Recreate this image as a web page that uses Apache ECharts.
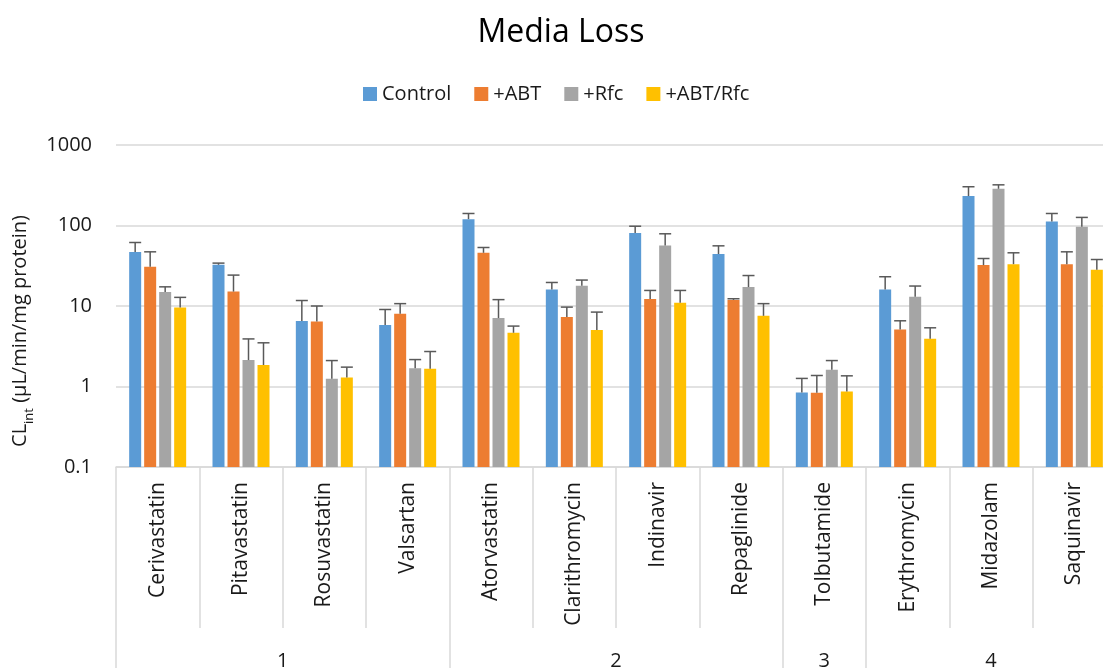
<!DOCTYPE html>
<html>
<head>
<meta charset="utf-8">
<script src="https://cdn.jsdelivr.net/npm/echarts@6.0.0/dist/echarts.min.js"></script>
<style>
  html, body { margin: 0; padding: 0; background: #fff; }
  #chart { width: 1103px; height: 668px; }
</style>
</head>
<body>
<div id="chart"></div>
<script>
// drug names and the group they belong to
const drugs = ['Cerivastatin', 'Pitavastatin', 'Rosuvastatin', 'Valsartan', 'Atorvastatin',
    'Clarithromycin', 'Indinavir', 'Repaglinide', 'Tolbutamide', 'Erythromycin', 'Midazolam', 'Saquinavir'];
const groupNames = ['1', '2', '3', '4'];
const groupSizes = [4, 4, 1, 3];

const seriesNames = ['Control', '+ABT', '+Rfc', '+ABT/Rfc'];
const seriesColors = ['#5B9BD5', '#ED7D31', '#A5A5A5', '#FFC000'];

// CLint means
const control = [46.7, 32.5, 6.5, 5.8, 120, 16.0, 80.5, 44.2, 0.84, 16.0, 232, 112];
const abt = [30.7, 15.1, 6.4, 8.0, 45.8, 7.28, 12.2, 11.9, 0.835, 5.1, 32.2, 33.1];
const rfc = [14.9, 2.13, 1.25, 1.69, 7.08, 17.8, 56.5, 17.2, 1.61, 13.0, 286, 96.4];
const abtRfc = [9.6, 1.85, 1.29, 1.66, 4.65, 5.02, 11.0, 7.55, 0.867, 3.92, 33.1, 28.2];

// error (SD, upper side only)
const controlErr = [14.8, 1.6, 5.2, 3.25, 21, 3.6, 17.5, 11.7, 0.42, 7.1, 71, 29];
const abtErr = [16.4, 9.1, 3.6, 2.7, 7.5, 2.41, 3.4, 0.4, 0.535, 1.45, 6.7, 14.0];
const rfcErr = [2.4, 1.77, 0.85, 0.47, 4.92, 3.2, 22.4, 6.7, 0.49, 4.7, 34, 29.6];
const abtRfcErr = [3.2, 1.64, 0.45, 1.06, 0.98, 3.38, 4.6, 3.15, 0.49, 1.44, 12.7, 9.6];

const yTicks = [0.1, 1, 10, 100, 1000];

const allMeans = [control, abt, rfc, abtRfc];
const allErrs = [controlErr, abtErr, rfcErr, abtRfcErr];

const FONT = 'Open Sans';
const TEXT = '#1a1a1a';
const LINE = '#d9d9d9';
const BAR_W = 12;
const BAR_STEP = 15;
const Y_MIN = yTicks[0];

// second axis: 2 slots per category, boundaryGap false -> 25 points
const slots = new Array(drugs.length * 2 + 1).fill('');
const groupEdges = [0];
let pos = 0;
groupSizes.forEach((n, i) => {
    slots[pos * 2 + n] = groupNames[i];
    pos += n;
    groupEdges.push(pos * 2);
});

const chart = echarts.init(document.getElementById('chart'), null, { renderer: 'canvas' });

// bars are drawn from the bottom of the log axis (0.1), with an upper error bar
const series = allMeans.map((vals, i) => ({
    type: 'custom',
    name: seriesNames[i],
    itemStyle: { color: seriesColors[i] },
    data: vals.map((v, k) => [k, v, v + allErrs[i][k]]),
    encode: { x: 0, y: [1, 2] },
    renderItem: function (params, api) {
        const base = api.coord([api.value(0), Y_MIN]);
        const top = api.coord([api.value(0), api.value(1)]);
        const err = api.coord([api.value(0), api.value(2)]);
        const cx = top[0] + (i - 1.5) * BAR_STEP;
        const style = { stroke: '#595959', lineWidth: 1.5 };
        return {
            type: 'group',
            children: [
                {
                    type: 'rect',
                    shape: { x: cx - BAR_W / 2, y: top[1], width: BAR_W, height: base[1] - top[1] },
                    style: { fill: api.visual('color') }
                },
                { type: 'line', shape: { x1: cx, y1: top[1], x2: cx, y2: err[1] }, style: style },
                { type: 'line', shape: { x1: cx - 6, y1: err[1], x2: cx + 6, y2: err[1] }, style: style }
            ]
        };
    }
}));

chart.setOption({
    animation: false,
    textStyle: { fontFamily: FONT },
    title: {
        text: 'Media Loss',
        left: 556,
        textAlign: 'center',
        top: 12,
        textStyle: { fontFamily: FONT, fontSize: 32, fontWeight: 'normal', color: '#000' }
    },
    legend: {
        data: seriesNames,
        left: 363,
        top: 84,
        padding: 0,
        itemWidth: 14,
        itemHeight: 14,
        itemGap: 23,
        icon: 'rect',
        textStyle: { fontFamily: FONT, fontSize: 20, color: TEXT }
    },
    grid: { left: 116, right: -13, top: 145, bottom: 201, outerBoundsMode: 'none' },
    xAxis: [
        {
            type: 'category',
            data: drugs,
            axisLine: { lineStyle: { color: LINE, width: 1.5 } },
            axisTick: { show: true, length: 161, lineStyle: { color: LINE, width: 1.5 } },
            axisLabel: { interval: 0, rotate: 90, margin: 15, fontFamily: FONT, fontSize: 21, color: TEXT }
        },
        {
            type: 'category',
            data: slots,
            boundaryGap: false,
            position: 'bottom',
            offset: 161,
            axisLine: { show: false },
            axisTick: {
                show: true,
                length: 45,
                interval: idx => groupEdges.includes(idx),
                lineStyle: { color: LINE, width: 1.5 }
            },
            axisLabel: { interval: 0, margin: 23, fontFamily: FONT, fontSize: 20, color: TEXT }
        }
    ],
    yAxis: {
        type: 'log',
        logBase: 10,
        min: Y_MIN,
        max: yTicks[yTicks.length - 1],
        axisLine: { show: false },
        axisTick: { show: false },
        splitLine: { lineStyle: { color: LINE, width: 1.5 } },
        axisLabel: { margin: 24, fontFamily: FONT, fontSize: 20, color: TEXT,
            formatter: v => String(yTicks.find(t => Math.abs(t - v) / t < 1e-6) ?? v) },
        name: '{a|CL}{s|int}{a| (µL/min/mg protein)}',
        nameLocation: 'middle',
        nameGap: 73,
        nameTextStyle: {
            fontFamily: FONT,
            fontSize: 20,
            align: 'center',
            padding: [0, 50, 0, 0],
            rich: {
                a: { fontFamily: FONT, fontSize: 20, color: TEXT, lineHeight: 30 },
                s: { fontFamily: FONT, fontSize: 13, color: TEXT, lineHeight: 30, verticalAlign: 'bottom' }
            }
        }
    },
    series: series
});
</script>
</body>
</html>
